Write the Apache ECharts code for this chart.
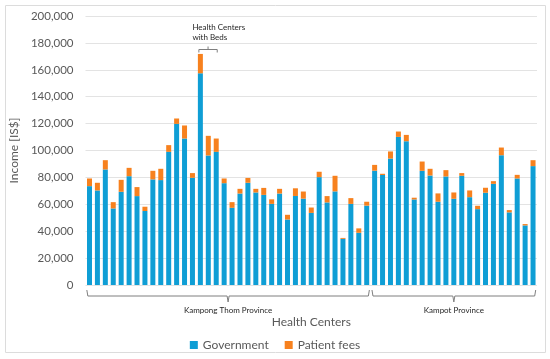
<!DOCTYPE html>
<html>
<head>
<meta charset="utf-8">
<script src="https://cdn.jsdelivr.net/npm/echarts@6/dist/echarts.min.js"></script>
<style>html,body{margin:0;padding:0;background:#fff;}#c{width:550px;height:359px;}</style>
</head>
<body>
<div id="c"></div>
<script>
const categories = ["KT1","KT2","KT3","KT4","KT5","KT6","KT7","KT8","KT9","KT10","KT11","KT12","KT13","KT14","KT15","KT16","KT17","KT18","KT19","KT20","KT21","KT22","KT23","KT24","KT25","KT26","KT27","KT28","KT29","KT30","KT31","KT32","KT33","KT34","KT35","KT36",
"KP1","KP2","KP3","KP4","KP5","KP6","KP7","KP8","KP9","KP10","KP11","KP12","KP13","KP14","KP15","KP16","KP17","KP18","KP19","KP20","KP21"];
const government = [73500,70300,85900,56900,69300,80900,66100,55000,78500,78000,99000,119800,108900,79700,157400,96300,99000,75700,57400,68000,76000,68800,67000,60300,68000,48700,66200,64200,53600,80200,61400,69600,34300,60300,38800,59000,
85000,81800,94000,110100,106900,63600,84900,81400,61900,80700,64100,81200,65300,56400,68600,75200,96500,54000,79200,44300,88400];
const patientFees = [5700,5700,6900,4700,8900,6200,6700,3200,6400,8400,5000,4000,9700,3500,14400,14600,9900,3500,4200,3500,3600,2700,5200,3400,3500,3500,5700,5300,4000,4000,4700,11600,700,4300,3300,2900,
4300,900,5300,4000,4700,1300,6900,5000,6200,4700,4700,2000,5000,2500,3700,2000,5700,1700,2700,1000,4400];
const yTicks = [0,20000,40000,60000,80000,100000,120000,140000,160000,180000,200000];
const provinces = [
  {name:"Kampong Thom Province", first:"KT1", last:"KT36"},
  {name:"Kampot Province", first:"KP1", last:"KP21"}
];
const bedsGroup = {label:"Health Centers\nwith Beds", first:"KT15", last:"KT17"};

const FONT = "Lato";
const chart = echarts.init(document.getElementById('c'));
chart.setOption({
  animation:false,
  textStyle:{fontFamily:FONT},
  grid:{left:78,right:13,top:16,bottom:74},
  legend:{
    top:334,left:'center',icon:'rect',itemWidth:8,itemHeight:8,itemGap:16,
    textStyle:{fontFamily:FONT,fontSize:12,color:'#595959'},
    data:['Government','Patient fees']
  },
  xAxis:{
    type:'category',data:categories,
    axisLine:{show:false},axisTick:{show:false},axisLabel:{show:false},
    name:'Health Centers',nameLocation:'middle',nameGap:31,
    nameTextStyle:{fontFamily:FONT,fontSize:12,color:'#595959'}
  },
  yAxis:{
    type:'value',min:yTicks[0],max:yTicks[yTicks.length-1],interval:20000,
    axisLine:{show:false},axisTick:{show:false},
    axisLabel:{fontFamily:FONT,fontSize:11.5,color:'#595959',margin:12,
      formatter:v=>v.toLocaleString('en-US')},
    splitLine:{lineStyle:{color:'#e3e3e3',width:1}},
    name:'Income [IS$]',nameLocation:'middle',nameGap:52,nameRotate:90,
    nameTextStyle:{fontFamily:FONT,fontSize:12,color:'#595959'}
  },
  series:[
    {name:'Government',type:'bar',stack:'inc',data:government,barWidth:5,itemStyle:{color:'#0f9ed5'}},
    {name:'Patient fees',type:'bar',stack:'inc',data:patientFees,barWidth:5,itemStyle:{color:'#f7811e'}}
  ]
});

function px(cat){ return chart.convertToPixel({xAxisIndex:0}, cat); }
function py(v){ return chart.convertToPixel({yAxisIndex:0}, v); }
const step = px(categories[1]) - px(categories[0]);
const y0 = py(0);
const lineStyle = {stroke:'#7f7f7f',lineWidth:1,fill:null};
const g = [];
g.push({type:'rect',shape:{x:5.5,y:5.5,width:540,height:347},style:{stroke:'#dcdcdc',fill:null,lineWidth:1},silent:true,z:-1});
provinces.forEach(p=>{
  const x1 = px(p.first) - step/2 + 1.3, x2 = px(p.last) + step/2 - 1.3;
  const xm = (x1+x2)/2;
  const yt = y0 + 5, yh = y0 + 11, yb = y0 + 17;
  g.push({type:'polyline',shape:{points:[[x1,yt],[x1+1,yh],[xm-1,yh],[xm,yb]]},style:lineStyle,silent:true});
  g.push({type:'polyline',shape:{points:[[xm,yb],[xm+1,yh],[x2-1,yh],[x2,yt]]},style:lineStyle,silent:true});
  g.push({type:'text',style:{text:p.name,x:xm,y:y0+25,align:'center',verticalAlign:'middle',font:'8px '+FONT,fill:'#262626'},silent:true});
});
{
  const x1 = px(bedsGroup.first) - 1.5, x2 = px(bedsGroup.last) + 1;
  const xm = (x1+x2)/2, yh = 49.5;
  g.push({type:'polyline',shape:{points:[[x1,yh+3],[x1,yh],[x2,yh],[x2,yh+3]]},style:lineStyle,silent:true});
  g.push({type:'line',shape:{x1:xm,y1:yh,x2:xm,y2:yh-3},style:lineStyle,silent:true});
  g.push({type:'text',style:{text:bedsGroup.label,x:x1-6.5,y:22,align:'left',verticalAlign:'top',font:'8px '+FONT,lineHeight:10.5,fill:'#262626'},silent:true});
}
chart.setOption({graphic:g});
</script>
</body>
</html>
